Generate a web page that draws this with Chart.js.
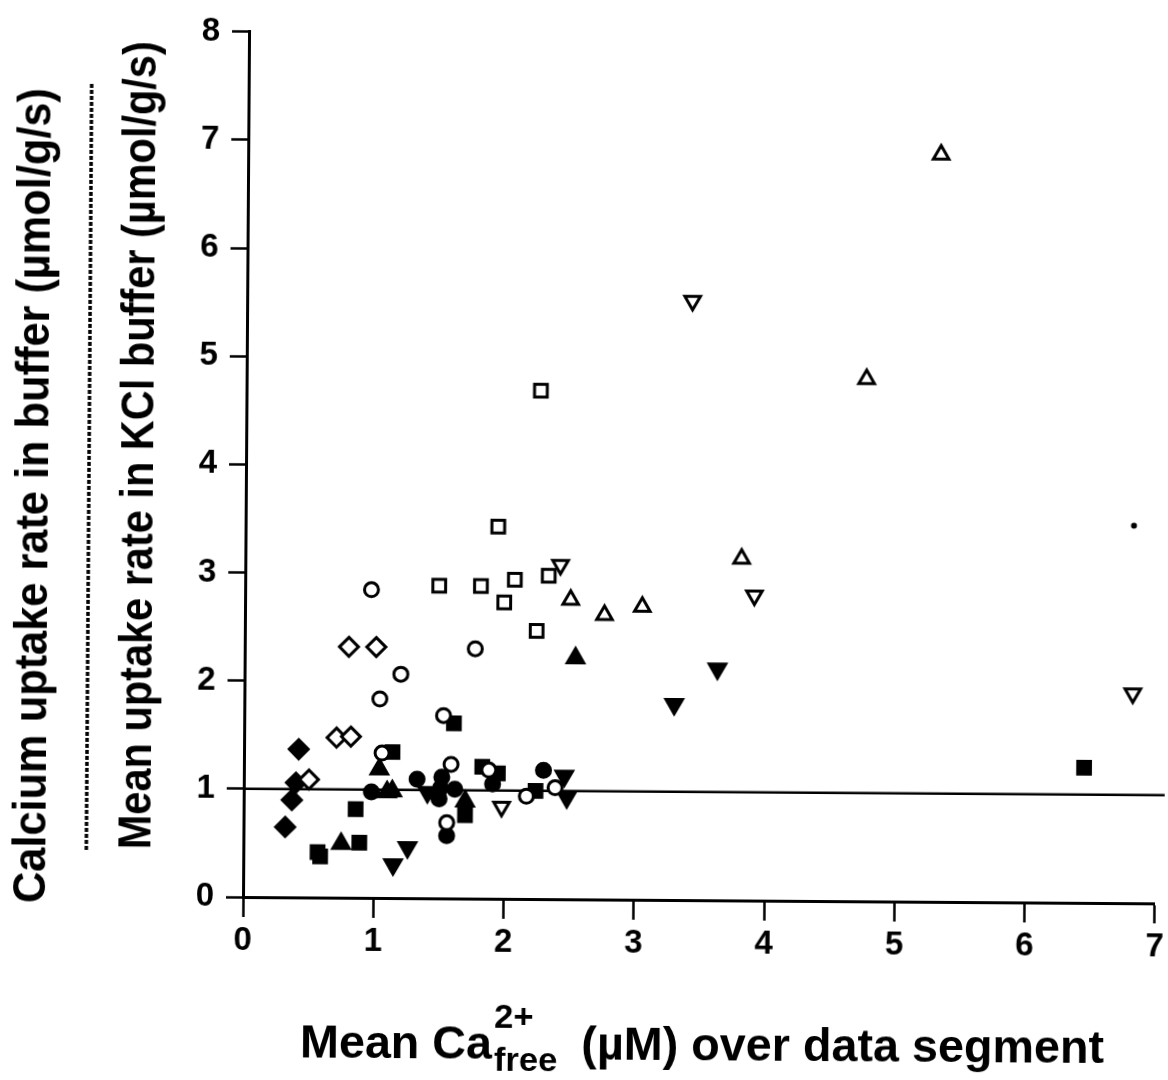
<!DOCTYPE html>
<html>
<head>
<meta charset="utf-8">
<script src="https://cdn.jsdelivr.net/npm/chart.js@4"></script>
<style>
  html, body { margin: 0; padding: 0; background: #fff; overflow: hidden; }
  /* the printed figure sits a touch askew; pivot on the axis origin */
  canvas { display: block; transform: rotate(0.4deg); transform-origin: 243px 897px; }
</style>
</head>
<body>
<canvas id="c" width="1168" height="1080"></canvas>
<script>
// ---- data (x = mean free Ca2+ in µM, y = uptake rate in µmol/g/s) ----
const openSquareX = [1.49, 1.81, 1.94, 2.07, 1.99, 2.26, 2.33, 2.24];
const openSquareY = [2.89, 2.89, 3.44, 2.95, 2.74, 4.70, 2.99, 2.48];

const openCircleX = [0.97, 1.20, 1.04, 1.77, 1.53, 1.06, 1.59, 1.56, 1.88, 2.17, 2.39];
const openCircleY = [2.85, 2.07, 1.84, 2.31, 1.69, 1.34, 1.24, 0.70, 1.19, 0.95, 1.03];

const openDiamondX = [0.80, 1.01, 0.71, 0.82, 0.50];
const openDiamondY = [2.32, 2.32, 1.48, 1.49, 1.09];

const openTriUpX = [5.32, 4.76, 3.81, 2.50, 2.76, 3.05];
const openTriUpY = [6.91, 4.83, 3.16, 2.77, 2.63, 2.71];

const openTriDownX = [3.42, 3.91, 2.42, 6.82, 1.98];
const openTriDownY = [5.54, 2.82, 3.09, 1.94, 0.85];

const filledDiamondX = [0.42, 0.40, 0.37, 0.32];
const filledDiamondY = [1.37, 1.06, 0.90, 0.65];

const filledSquareX = [1.61, 1.14, 0.86, 0.89, 0.57, 0.59, 1.70, 1.83, 1.95, 2.24, 6.45];
const filledSquareY = [1.62, 1.35, 0.82, 0.51, 0.42, 0.38, 0.77, 1.22, 1.16, 1.00, 1.25];

const filledCircleX = [1.33, 0.98, 1.52, 1.51, 1.50, 1.62, 1.56, 2.30, 1.91];
const filledCircleY = [1.10, 0.98, 1.12, 1.02, 0.92, 1.01, 0.58, 1.19, 1.06];

const filledTriUpX = [1.04, 1.10, 1.14, 1.70, 0.75, 2.54];
const filledTriUpY = [1.19, 0.98, 0.99, 0.90, 0.50, 2.23];

const filledTriDownX = [1.15, 1.26, 2.46, 2.48, 3.30, 3.63, 1.41];
const filledTriDownY = [0.31, 0.47, 1.14, 0.94, 1.81, 2.14, 0.98];

const strayDotX = [6.82];
const strayDotY = [3.49];

// reference level: ratio of 1
const refLineX = [0, 7.07];
const refLineY = [1, 1];

const xTicks = [0, 1, 2, 3, 4, 5, 6, 7];
const yTicks = [0, 1, 2, 3, 4, 5, 6, 7, 8];

const yTitleOuter = 'Calcium uptake rate in buffer (\u00b5mol/g/s)';
const yTitleInner = 'Mean uptake rate in KCl buffer (\u00b5mol/g/s)';
const xTitleParts = ['Mean Ca', '2+', 'free', '  (\u00b5M) over data segment'];

// ---- helpers ----
const FONT = '"Liberation Sans", Arial, Helvetica, sans-serif';

function pts(xs, ys) {
  return xs.map((x, i) => ({ x: x, y: ys[i] }));
}

function markerSet(label, xs, ys, style, filled, radius, rotation) {
  return {
    label: label,
    data: pts(xs, ys),
    pointStyle: style,
    pointRadius: radius,
    pointHoverRadius: radius,
    rotation: rotation || 0,
    pointBorderWidth: 3,
    pointBorderColor: '#000',
    pointBackgroundColor: filled ? '#000' : '#fff',
    showLine: false
  };
}

// rotated text: baseline at x = baseX, centred on cy, squeezed to a set length
function drawVertical(ctx, text, baseX, cy, targetW, font) {
  ctx.save();
  ctx.font = font;
  const w = ctx.measureText(text).width;
  ctx.translate(baseX, cy);
  ctx.rotate(-Math.PI / 2);
  ctx.scale(targetW / w, 1);
  ctx.textAlign = 'center';
  ctx.textBaseline = 'alphabetic';
  ctx.fillText(text, 0, 0);
  ctx.restore();
}

const axisTitles = {
  id: 'axisTitles',
  afterDraw(chart) {
    const ctx = chart.ctx;
    ctx.save();
    ctx.fillStyle = '#000';
    ctx.strokeStyle = '#000';

    // two stacked y titles separated by a dashed rule
    drawVertical(ctx, yTitleOuter, 45, 497, 815, 'bold 46px ' + FONT);
    drawVertical(ctx, yTitleInner, 150, 446, 808, 'bold 46px ' + FONT);
    ctx.save();
    ctx.lineWidth = 3.5;
    ctx.setLineDash([4, 2]);
    ctx.beginPath();
    ctx.moveTo(86, 85);
    ctx.lineTo(86, 851);
    ctx.stroke();
    ctx.restore();

    // x title with superscript charge and subscript "free"
    const mainFont = 'bold 46px ' + FONT;
    const smallFont = 'bold 34px ' + FONT;
    ctx.font = mainFont;
    const w0 = ctx.measureText(xTitleParts[0]).width;
    const w3 = ctx.measureText(xTitleParts[3]).width;
    ctx.font = smallFont;
    const w1 = ctx.measureText(xTitleParts[1]).width;
    const w2 = ctx.measureText(xTitleParts[2]).width;
    const natural = w0 + Math.max(w1, w2) + w3;
    const left = 301, right = 1105;
    const sx = (right - left) / natural;
    ctx.save();
    ctx.translate(left, 0);
    ctx.scale(sx, 1);
    ctx.textAlign = 'left';
    ctx.textBaseline = 'alphabetic';
    ctx.font = mainFont;
    ctx.fillText(xTitleParts[0], 0, 1057);
    ctx.font = smallFont;
    ctx.fillText(xTitleParts[1], w0 + 2, 1026);
    ctx.fillText(xTitleParts[2], w0 + 2, 1069);
    ctx.font = mainFont;
    ctx.fillText(xTitleParts[3], w0 + Math.max(w1, w2), 1057);
    ctx.restore();

    ctx.restore();
  }
};

const datasets = [
  markerSet('open squares', openSquareX, openSquareY, 'rect', false, 9),
  markerSet('open circles', openCircleX, openCircleY, 'circle', false, 7),
  markerSet('open diamonds', openDiamondX, openDiamondY, 'rectRot', false, 9.5),
  markerSet('open up-triangles', openTriUpX, openTriUpY, 'triangle', false, 9),
  markerSet('open down-triangles', openTriDownX, openTriDownY, 'triangle', false, 9, 180),
  markerSet('filled diamonds', filledDiamondX, filledDiamondY, 'rectRot', true, 9.5),
  markerSet('filled squares', filledSquareX, filledSquareY, 'rect', true, 9),
  markerSet('filled circles', filledCircleX, filledCircleY, 'circle', true, 7),
  markerSet('filled up-triangles', filledTriUpX, filledTriUpY, 'triangle', true, 9.5),
  markerSet('filled down-triangles', filledTriDownX, filledTriDownY, 'triangle', true, 9.5, 180),
  markerSet('dot', strayDotX, strayDotY, 'circle', true, 1.5),
  {
    label: 'reference',
    data: pts(refLineX, refLineY),
    showLine: true,
    borderColor: '#000',
    borderWidth: 2.5,
    pointRadius: 0,
    clip: false
  }
];

new Chart(document.getElementById('c'), {
  type: 'scatter',
  data: { datasets: datasets },
  options: {
    responsive: false,
    animation: false,
    devicePixelRatio: 1,
    layout: { padding: { left: 0, right: 8, top: 27, bottom: 0 } },
    plugins: {
      legend: { display: false },
      tooltip: { enabled: false },
      title: { display: false }
    },
    scales: {
      x: {
        type: 'linear',
        min: 0,
        max: 7,
        afterBuildTicks(scale) { scale.ticks = xTicks.map(v => ({ value: v })); },
        afterFit(scale) { scale.height = 183; },
        ticks: {
          color: '#000',
          font: { family: FONT, size: 33, weight: 'bold' },
          padding: 4,
          maxRotation: 0
        },
        grid: {
          drawOnChartArea: false,
          drawTicks: true,
          tickLength: 20,
          tickWidth: 2.5,
          tickColor: '#000'
        },
        border: { display: true, color: '#000', width: 3 }
      },
      y: {
        type: 'linear',
        min: 0,
        max: 8,
        afterBuildTicks(scale) { scale.ticks = yTicks.map(v => ({ value: v })); },
        afterFit(scale) { scale.width = 243; },
        ticks: {
          color: '#000',
          font: { family: FONT, size: 33, weight: 'bold' },
          padding: 12
        },
        grid: {
          drawOnChartArea: false,
          drawTicks: true,
          tickLength: 17,
          tickWidth: 2.5,
          tickColor: '#000'
        },
        border: { display: true, color: '#000', width: 3 }
      }
    }
  },
  plugins: [axisTitles]
});
</script>
</body>
</html>
